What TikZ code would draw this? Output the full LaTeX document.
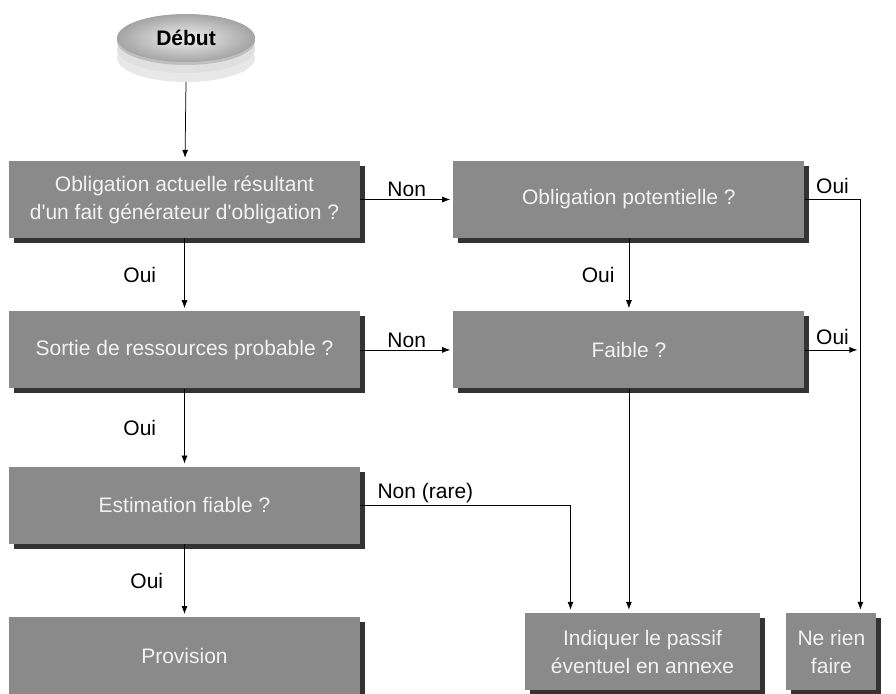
\documentclass[tikz,border=0pt]{standalone}
\usepackage{fontspec}
\setmainfont{Liberation Sans}[Ligatures=TeXOff]
\usetikzlibrary{shapes.geometric, arrows.meta, positioning, shadows}
\definecolor{boxgray}{HTML}{8A8A8A}
\definecolor{boxtext}{HTML}{F2F2F2}
\definecolor{edgegray}{HTML}{333333}
\definecolor{diskgray}{HTML}{A4A4A4}
\newcommand{\chartfont}{\fontsize{21}{28}\selectfont}
\tikzstyle{start} = [ellipse, minimum width=138pt, minimum height=48pt, inner sep=0pt, font=\chartfont\bfseries, shading=radial, inner color=white!94!black, outer color=diskgray, general shadow={shadow yshift=-20pt, fill=black!9}, general shadow={shadow yshift=-11pt, fill=black!12}, general shadow={shadow yshift=-3pt, fill=black!25}]
\tikzstyle{stepbox} = [rectangle, minimum width=351pt, minimum height=77pt, inner sep=0pt, text=boxtext, fill=boxgray, general shadow={shadow xshift=5pt, shadow yshift=-5pt, fill=edgegray}]
\tikzstyle{answer} = [text=black, inner sep=2pt]
\tikzstyle{cable} = [line width=0.75pt, -{Latex[length=8pt,width=6pt]}, shorten >=3pt]

\begin{document}
\begin{tikzpicture}[x=1pt, y=-1pt, align=center, node distance=73pt, font=\chartfont]
  \useasboundingbox (0,0) rectangle (896,693);
  \node (debut) [start] at (186,38) {Début};
  \node (actuelle) [stepbox] at (184.5,199.5) {Obligation actuelle résultant\\d'un fait générateur d'obligation ?};
  \node (sortie) [stepbox, below=of actuelle] {Sortie de ressources probable ?};
  \node (fiable) [stepbox, below=78pt of sortie] {Estimation fiable ?};
  \node (provision) [stepbox, below=of fiable] {Provision};
  \node (potentielle) [stepbox, right=93pt of actuelle] {Obligation potentielle ?};
  \node (faible) [stepbox, below=of potentielle] {Faible ?};
  \node (passif) [stepbox, minimum width=235pt] at (642.5,651.5) {Indiquer le passif\\éventuel en annexe};
  \node (rien) [stepbox, minimum width=90pt, right=26pt of passif] {Ne rien\\faire};
  \coordinate (rail) at ([xshift=29pt]rien.north);
  \draw [cable] ([yshift=-20pt]debut.south) -- (actuelle);
  \draw [cable] (actuelle) -- node[answer, left=26pt] {Oui} (sortie);
  \draw [cable] (sortie) -- node[answer, left=26pt] {Oui} (fiable);
  \draw [cable] (fiable) -- node[answer, left=19pt] {Oui} (provision);
  \draw [cable] (actuelle) -- node[answer, above] {Non} (potentielle);
  \draw [cable] (sortie) -- node[answer, above] {Non} (faible);
  \draw [cable] (potentielle) -- node[answer, left=12pt] {Oui} (faible);
  \draw [cable] (fiable) -| node[answer, pos=0.155, above] {Non (rare)} ([xshift=-72pt]passif.north);
  \draw [cable] (faible) -- (faible |- passif.north);
  \draw [cable] (potentielle) -| node[answer, pos=0.25, above=3pt] {Oui} (rail);
  \draw [cable] (faible) -- node[answer, above=3pt] {Oui} (faible -| rail);
\end{tikzpicture}
\end{document}
